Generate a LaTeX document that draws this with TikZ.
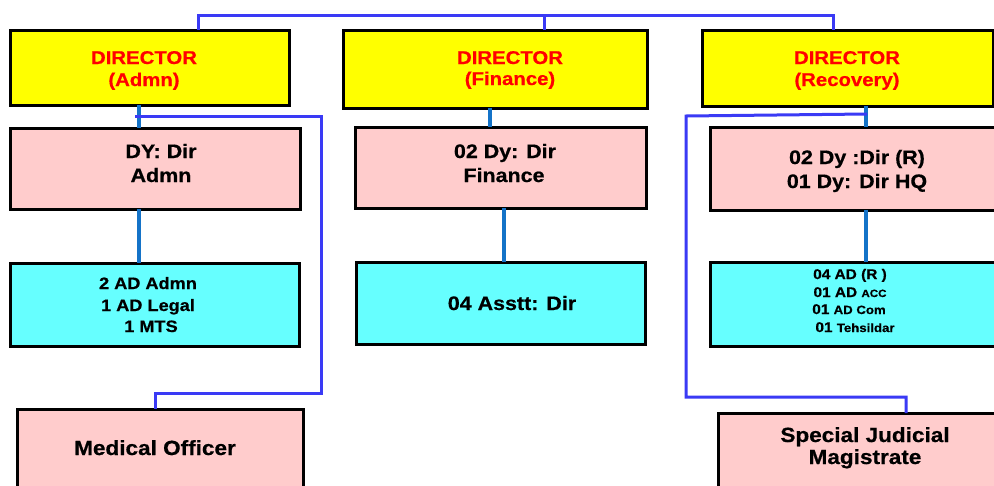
\documentclass[tikz,border=0pt]{standalone}
\usepackage{fontspec}
\setmainfont{Liberation Sans}[FakeStretch=1.1, BoldFeatures={FakeBold=0.6}]
\definecolor{boxyel}{RGB}{255,255,0}
\definecolor{boxpink}{RGB}{255,204,204}
\definecolor{boxcyan}{RGB}{102,255,255}
\definecolor{steel}{RGB}{20,115,200}
\definecolor{violetblue}{RGB}{58,58,245}
\newcommand\fsz[1]{\fontsize{#1}{#1}\selectfont\bfseries}
\tikzset{
  orgbox/.style={draw=black, line width=3pt, inner sep=0pt, outer sep=0pt, anchor=north west},
  txt/.style={anchor=base, inner sep=0pt, outer sep=0pt, text=black},
  dirtxt/.style={txt, text={rgb,255:red,255;green,0;blue,0}, font=\fsz{18.5}},
  stem/.style={draw=steel, line width=3.5pt},
  link/.style={draw=violetblue, line width=3pt, line join=miter},
}
\begin{document}
\begin{tikzpicture}[x=1pt,y=-1pt]
\clip (0,0) rectangle (994,485);
\fill[white] (0,0) rectangle (994,485);

% directors
\node[orgbox, fill=boxyel, minimum width=279pt, minimum height=75pt] (dirA) at (10,30) {};
\node[orgbox, fill=boxyel, minimum width=304pt, minimum height=78pt] (dirF) at (343,30) {};
\node[orgbox, fill=boxyel, minimum width=291pt, minimum height=76pt] (dirR) at (702,30) {};

% deputy directors
\node[orgbox, fill=boxpink, minimum width=290pt, minimum height=81pt] (dyA) at (10,128) {};
\node[orgbox, fill=boxpink, minimum width=291pt, minimum height=81pt] (dyF) at (355,127) {};
\node[orgbox, fill=boxpink, minimum width=300pt, minimum height=83pt] (dyR) at (710,127) {};

% assistant directors
\node[orgbox, fill=boxcyan, minimum width=289pt, minimum height=83pt] (adA) at (10,263) {};
\node[orgbox, fill=boxcyan, minimum width=289pt, minimum height=82pt] (adF) at (356,262) {};
\node[orgbox, fill=boxcyan, minimum width=300pt, minimum height=84pt] (adR) at (710,262) {};

% bottom boxes
\node[orgbox, fill=boxpink, minimum width=286pt, minimum height=90pt] (med) at (17,409) {};
\node[orgbox, fill=boxpink, minimum width=290pt, minimum height=90pt] (sjm) at (718,413) {};

% top bus
\coordinate (busL) at (198,15);
\coordinate (busM) at (544,15);
\coordinate (busR) at (833,15);
\draw[link] (dirA.north -| busL) -- (busL) -- (busR) -- (dirR.north -| busR);
\draw[link] (busM) -- (dirF.north -| busM);

% vertical stems
\coordinate (sA) at (139,0);
\coordinate (sF1) at (490,0);
\coordinate (sF2) at (504,0);
\coordinate (sR) at (866,0);
\draw[stem] (dirA.south -| sA) -- (dyA.north -| sA);
\draw[stem] (dyA.south -| sA) -- (adA.north -| sA);
\draw[stem] (dirF.south -| sF1) -- (dyF.north -| sF1);
\draw[stem] (dyF.south -| sF2) -- (adF.north -| sF2);
\draw[stem] (dirR.south -| sR) -- (dyR.north -| sR);
\draw[stem] (dyR.south -| sR) -- (adR.north -| sR);

% side links
\coordinate (lA1) at (135,116);
\coordinate (lA2) at (321,116);
\coordinate (lA3) at (321,393);
\coordinate (lA4) at (155,393);
\draw[link] (lA1) -- (lA2) -- (lA3) -- (lA4) -- (med.north -| lA4);
\coordinate (lR1) at (867,114);
\coordinate (lR2) at (686,116);
\coordinate (lR3) at (686,397);
\coordinate (lR4) at (906,397);
\draw[link] (lR1) -- (lR2) -- (lR3) -- (lR4) -- (sjm.north -| lR4);

% texts: directors
\node[dirtxt] (tA1) at (144,64) {DIRECTOR};
\node[dirtxt] (tA2) at (144,86) {(Admn)};
\node[dirtxt] (tF1) at (510,64) {DIRECTOR};
\node[dirtxt] (tF2) at (510,85) {(Finance)};
\node[dirtxt] (tR1) at (847,64) {DIRECTOR};
\node[dirtxt] (tR2) at (847,86) {(Recovery)};

% texts: deputies
\node[txt, font=\fsz{19.5}] (pA1) at (161,158) {DY: Dir};
\node[txt, font=\fsz{19.5}] (pA2) at (161,182) {Admn};
\node[txt, font=\fsz{19.5}] (pF1) at (505,158) {02 Dy: Dir};
\node[txt, font=\fsz{19.5}] (pF2) at (504,182) {Finance};
\node[txt, font=\fsz{19.5}] (pR1) at (857,164) {02 Dy :Dir (R)};
\node[txt, font=\fsz{19.5}] (pR2) at (857,188) {01 Dy: Dir HQ};

% texts: assistants
\node[txt, font=\fsz{16.5}] (cA1) at (148,289) {2 AD Admn};
\node[txt, font=\fsz{16.5}] (cA2) at (148,311) {1 AD Legal};
\node[txt, font=\fsz{16.5}] (cA3) at (151,332) {1 MTS};
\node[txt, font=\fsz{19.5}] (cF1) at (512,310) {04 Asstt: Dir};
\node[txt, font=\fsz{14}] (cR1) at (850,279) {04 AD (R )};
\node[txt, font=\fsz{14}] (cR2) at (850,297) {01 AD {\fsz{10.5}ACC}};
\node[txt, font=\fsz{14}] (cR3) at (849,314) {01 {\fsz{12}AD Com}};
\node[txt, font=\fsz{14}] (cR4) at (855,332) {01 {\fsz{12}Tehsildar}};

% texts: bottom
\node[txt, font=\fsz{20.5}] (mo) at (155,455) {Medical Officer};
\node[txt, font=\fsz{20.5}] (sj1) at (865,442) {Special Judicial};
\node[txt, font=\fsz{20.5}] (sj2) at (865,464) {Magistrate};
\end{tikzpicture}
\end{document}
